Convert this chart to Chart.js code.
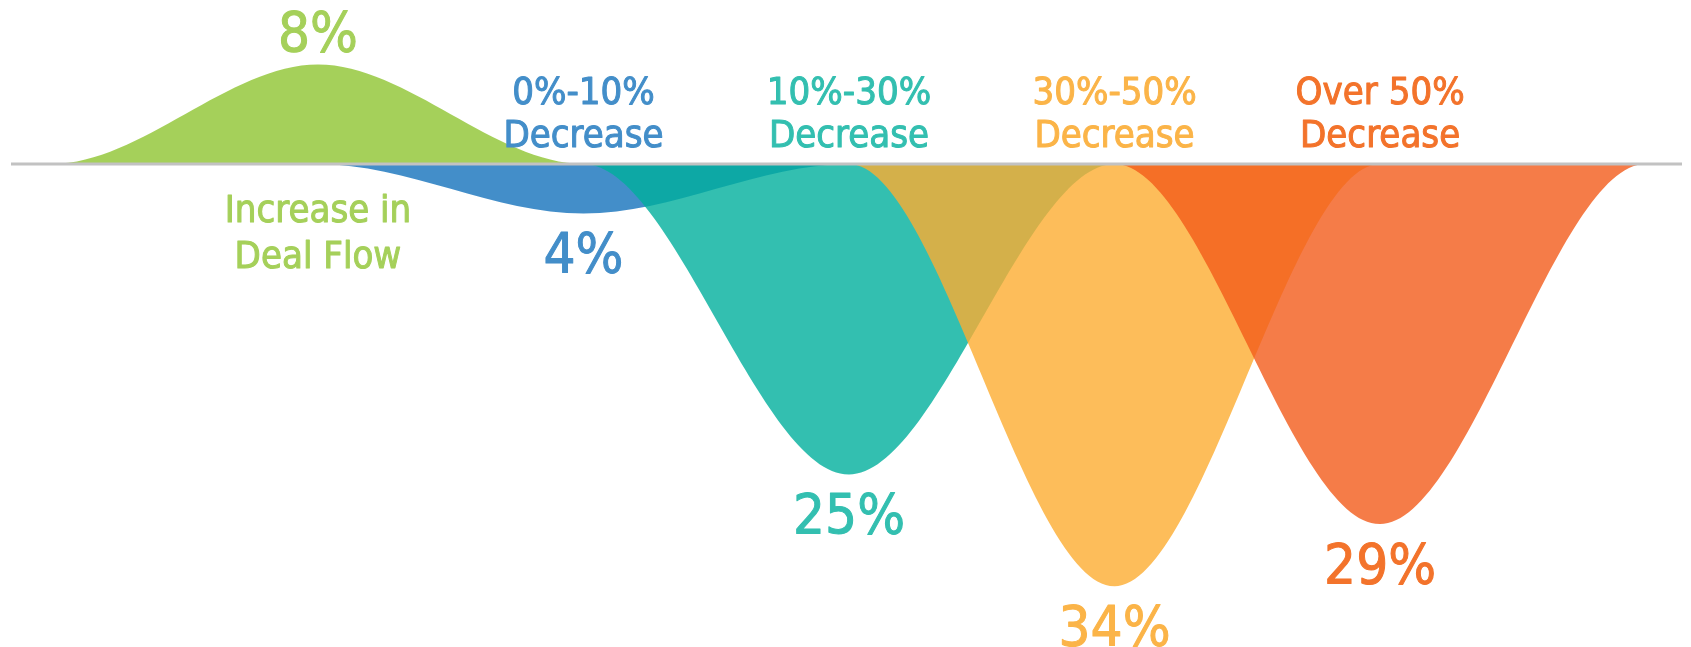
<!DOCTYPE html>
<html>
<head>
<meta charset="utf-8">
<script src="https://cdn.jsdelivr.net/npm/chart.js@4.4.1/dist/chart.umd.min.js"></script>
<style>
  html, body { margin: 0; padding: 0; background: #fff; }
  #wrap { width: 1691px; height: 647px; }
</style>
</head>
<body>
<div id="wrap"><canvas id="dealChart"></canvas></div>
<script>
// change in deal flow, share of respondents per bucket
const stages = [['Increase in', 'Deal Flow'], ['0%-10%', 'Decrease'], ['10%-30%', 'Decrease'], ['30%-50%', 'Decrease'], ['Over 50%', 'Decrease']];
const shares = [8, 4, 25, 34, 29];
const direction = [1, -1, -1, -1, -1]; // 1 = up (increase), -1 = down (decrease)

const fillColors = ['rgba(142,196,49,0.8)', 'rgba(20,114,188,0.8)', 'rgba(0,175,156,0.8)', 'rgba(252,172,49,0.8)', 'rgba(243,91,26,0.8)'];
const textColors = ['#a5d05a', '#438ec9', '#33bfb0', '#fbb448', '#f3732b'];

const FONT = '"DejaVu Sans Condensed", "Liberation Sans Narrow", Roboto, sans-serif';

const ctx = document.getElementById('dealChart');

// each bucket is a bump centred on its own slot, flat zero on both sides
const datasets = stages.map((s, i) => ({
    label: s.join(' '),
    data: [
        { x: i - 1, y: 0 },
        { x: i, y: 0 },
        { x: i + 1, y: direction[i] * shares[i] },
        { x: i + 2, y: 0 },
        { x: i + 3, y: 0 }
    ],
    backgroundColor: fillColors[i],
    borderWidth: 0,
    pointRadius: 0,
    fill: 'origin',
    cubicInterpolationMode: 'monotone',
    order: stages.length - i
}));

// text a bit heavier than the plain face
function heavyText(c, t, x, y) {
    c.fillText(t, x, y);
    c.strokeText(t, x, y);
}

const stageLabels = {
    id: 'stageLabels',
    afterDatasetsDraw(chart) {
        const c = chart.ctx;
        const area = chart.chartArea;
        const xs = chart.scales.x;
        const ys = chart.scales.y;
        const y0 = ys.getPixelForValue(0);

        c.save();
        c.strokeStyle = '#c2c2c2';
        c.lineWidth = 3;
        c.beginPath();
        c.moveTo(area.left, y0);
        c.lineTo(area.right, y0);
        c.stroke();

        c.textAlign = 'center';
        c.textBaseline = 'middle';
        c.lineWidth = 1;
        c.lineJoin = 'round';
        stages.forEach((lines, i) => {
            const px = xs.getPixelForValue(i + 1);
            const py = ys.getPixelForValue(direction[i] * shares[i]);
            c.fillStyle = textColors[i];
            c.strokeStyle = textColors[i];
            c.font = '56px ' + FONT;
            heavyText(c, shares[i] + '%', px, py - direction[i] * (direction[i] > 0 ? 28 : 44));

            c.font = '38px ' + FONT;
            lines.forEach((t, k) => {
                const off = direction[i] > 0 ? 48 + k * 46 : -70 + k * 43;
                heavyText(c, t, px, y0 + off);
            });
        });
        c.restore();
    }
};

new Chart(ctx, {
    type: 'line',
    data: { datasets: datasets },
    options: {
        responsive: true,
        maintainAspectRatio: false,
        animation: false,
        layout: { padding: { left: 11, right: 9, top: 0, bottom: 0 } },
        plugins: {
            legend: { display: false },
            tooltip: { enabled: false }
        },
        scales: {
            x: { type: 'linear', display: false, min: -0.156, max: 6.137 },
            y: { display: false, min: -38.9, max: 13.2 }
        }
    },
    plugins: [stageLabels]
});
</script>
</body>
</html>
